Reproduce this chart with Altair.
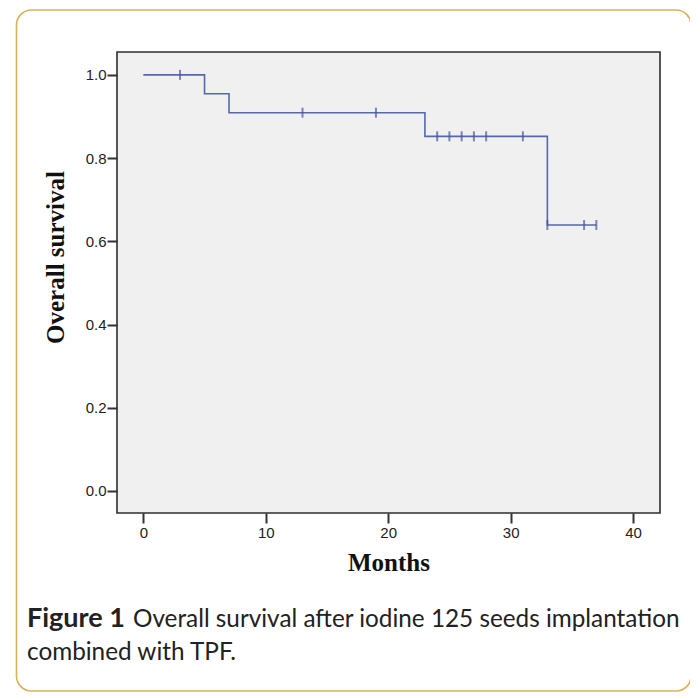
import altair as alt
import pandas as pd

# ---- data ----
step_months = [0, 5, 7, 23, 33, 37]
step_survival = [1.0, 0.9545, 0.9091, 0.8523, 0.6392, 0.6392]
censor_months = [3, 13, 19, 24, 25, 26, 27, 28, 31, 33, 36, 37]
censor_survival = [1.0, 0.9091, 0.9091, 0.8523, 0.8523, 0.8523, 0.8523,
                   0.8523, 0.8523, 0.6392, 0.6392, 0.6392]
x_ticks = [0, 10, 20, 30, 40]
y_ticks = [0.0, 0.2, 0.4, 0.6, 0.8, 1.0]
x_title = "Months"
y_title = "Overall survival"
caption_bold = "Figure 1"
caption_line1 = "Overall survival after iodine 125 seeds implantation"
caption_line2 = "combined with TPF."

W, H = 543, 461
OX, OY = 117, 52  # page position of plot origin
CANVAS_H = 685

steps = pd.DataFrame({"m": step_months, "s": step_survival})
cens = pd.DataFrame({"m": censor_months, "s": censor_survival})

x_scale = alt.Scale(domain=[-2.15, 42.2], nice=False, zero=False)
y_scale = alt.Scale(domain=[-0.053, 1.055], nice=False, zero=False)

axis_common = dict(
    domain=False, grid=False, tickSize=10, tickWidth=2, tickColor="#333333",
    labelFont="Liberation Sans", labelFontSize=15, labelColor="#222222",
    titleFont="Liberation Serif", titleFontSize=25, titleFontWeight="bold",
    titleColor="#111111",
)
x_axis = alt.Axis(values=x_ticks, format="d", title=x_title, labelPadding=2,
                  titleY=57, titleBaseline="alphabetic", **axis_common)
y_axis = alt.Axis(values=y_ticks, format=".1f", title=y_title, labelPadding=1,
                  titleAngle=270, titleX=-62, titleY=205, titleAlign="center",
                  titleBaseline="middle", **axis_common)

one = alt.Data(values=[{}])

border = alt.Chart(one).mark_rect(
    cornerRadius=15, fill="white", fillOpacity=0, stroke="#d8b25c", strokeWidth=1.6
).encode(
    x=alt.value(16.5 - OX), x2=alt.value(691 - OX),
    y=alt.value(10 - OY), y2=alt.value(8 + CANVAS_H - 2 - OY),
)

line = alt.Chart(steps).mark_line(
    interpolate="step-after", color="#5668a8", strokeWidth=1.6
).encode(
    x=alt.X("m:Q", scale=x_scale, axis=x_axis),
    y=alt.Y("s:Q", scale=y_scale, axis=y_axis),
)

ticks = alt.Chart(cens).mark_tick(
    orient="vertical", size=10, thickness=2, color="#46579a"
).encode(
    x=alt.X("m:Q", scale=x_scale),
    y=alt.Y("s:Q", scale=y_scale),
)

cap_font = "Lato"
cap1b = alt.Chart(one).mark_text(
    text=caption_bold, font=cap_font, fontSize=27, fontWeight="bold",
    color="#222222", align="left", baseline="alphabetic"
).encode(x=alt.value(27 - OX), y=alt.value(627 - OY))
cap1 = alt.Chart(one).mark_text(
    text=caption_line1, font=cap_font, fontSize=24.3, color="#222222",
    align="left", baseline="alphabetic"
).encode(x=alt.value(133 - OX), y=alt.value(627 - OY))
cap2 = alt.Chart(one).mark_text(
    text=caption_line2, font=cap_font, fontSize=24.3, color="#222222",
    align="left", baseline="alphabetic"
).encode(x=alt.value(27 - OX), y=alt.value(660 - OY))

chart = alt.layer(border, line, ticks, cap1b, cap1, cap2).properties(
    width=W, height=H,
    autosize=alt.AutoSizeParams(type="none"),
    padding={"left": OX - 8, "top": OY - 8, "right": 698 - 16 - (OX - 8) - W,
             "bottom": CANVAS_H - (OY - 8) - H},
    background="white",
).configure_view(
    fill="#f0f0f0", stroke="#2e2e2e", strokeWidth=1.6
)

chart.save("out.html", embed_options={"renderer": "svg", "actions": False})
